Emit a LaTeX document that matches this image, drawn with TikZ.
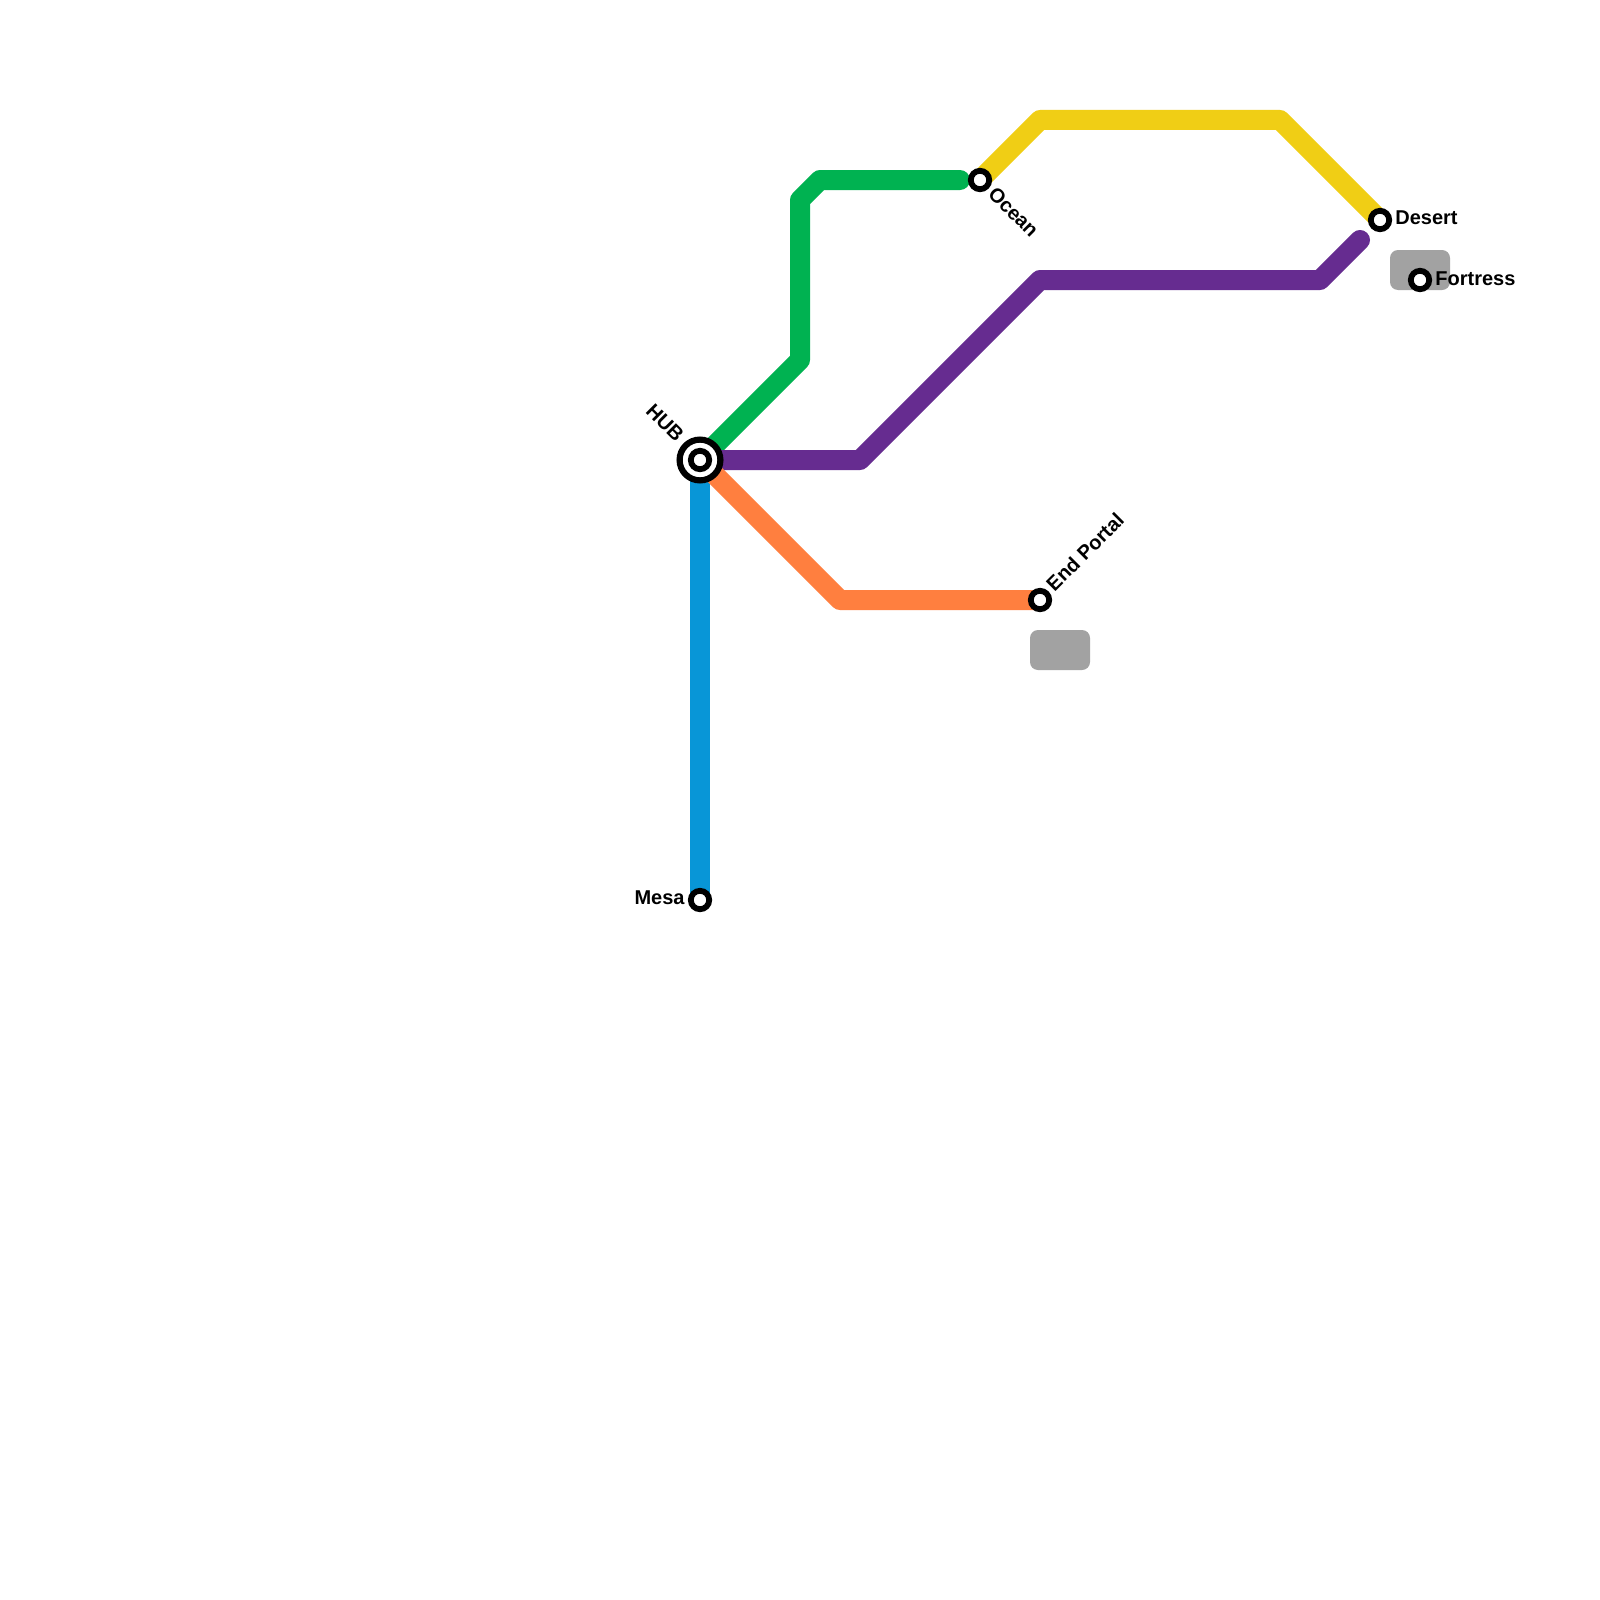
\documentclass[tikz,border=0pt]{standalone}
\usepackage{fontspec}
\setmainfont{Liberation Sans}
\definecolor{lblue}{HTML}{0896D7}
\definecolor{lgreen}{HTML}{00B251}
\definecolor{lpurple}{HTML}{662C90}
\definecolor{lorange}{HTML}{FF7F3F}
\definecolor{lyellow}{HTML}{F0CE15}
\definecolor{lgray}{HTML}{A2A2A2}
\pgfdeclarelayer{lines}
\pgfdeclarelayer{zones}
\pgfsetlayers{zones,lines,main}
\tikzset{
  metro/.style={line width=10pt,line join=round,line cap=round},
  zone/.style={fill=lgray,draw=none,rounded corners=4pt,minimum width=30pt,minimum height=20pt,inner sep=0pt,outer sep=0pt},
  stop/.style={circle,draw=black,fill=white,line width=2.9pt,minimum size=9.2pt,inner sep=0pt,outer sep=0pt},
  hubouter/.style={circle,draw=black,fill=white,line width=3.1pt,minimum size=20.4pt,inner sep=0pt,outer sep=0pt},
  lbl/.style={font=\fontsize{10pt}{12pt}\selectfont\bfseries,inner sep=0pt,text=black},
}
\begin{document}
\begin{tikzpicture}[x=0.5pt,y=-0.5pt]
\useasboundingbox (0,0) rectangle (1600,1600);
% stations
\node[hubouter] (hubring) at (700,460) {};
\node[stop] (hub) at (700,460) {};
\node[stop] (mesa) at (700,900) {};
\node[stop] (ocean) at (980,180) {};
\node[stop] (desert) at (1380,220) {};
\node[stop] (fortress) at (1420,280) {};
\node[stop] (endportal) at (1040,600) {};
% labels
\node[lbl,rotate=-45] (lhub) at (665,423) {HUB};
\node[lbl,anchor=east] (lmesa) at (685,898) {Mesa};
\node[lbl,rotate=-45] (locean) at (1013.5,212) {Ocean};
\node[lbl,rotate=45] (lend) at (1085,552) {End Portal};
\node[lbl,anchor=west] (ldesert) at (1395,218) {Desert};
\node[lbl,anchor=west] (lfort) at (1435,279) {Fortress};
% bends
\coordinate (g1) at (800,360);
\coordinate (g2) at (800,200);
\coordinate (g3) at (820,180);
\coordinate (gend) at (960,180);
\coordinate (p1) at (860,460);
\coordinate (p2) at (1040,280);
\coordinate (p3) at (1320,280);
\coordinate (pend) at (1360,240);
\coordinate (o1) at (840,600);
\coordinate (y1) at (1040,120);
\coordinate (y2) at (1280,120);
\begin{pgfonlayer}{zones}
\fill[white] (0,0) rectangle (1600,1600);
\node[zone] (zone1) at (1420,270) {};
\node[zone] (zone2) at (1060,650) {};
\end{pgfonlayer}
\begin{pgfonlayer}{lines}
\draw[metro,lblue,line cap=butt] (hub.center) -- (mesa.center);
\draw[metro,lgreen] (hub.center) -- (g1) -- (g2) -- (g3) -- (gend);
\draw[metro,lpurple] (hub.center) -- (p1) -- (p2) -- (p3) -- (pend);
\draw[metro,lorange] (hub.center) -- (o1) -- (endportal.center);
\draw[metro,lyellow] (ocean.center) -- (y1) -- (y2) -- (desert.center);
\end{pgfonlayer}
\end{tikzpicture}
\end{document}
